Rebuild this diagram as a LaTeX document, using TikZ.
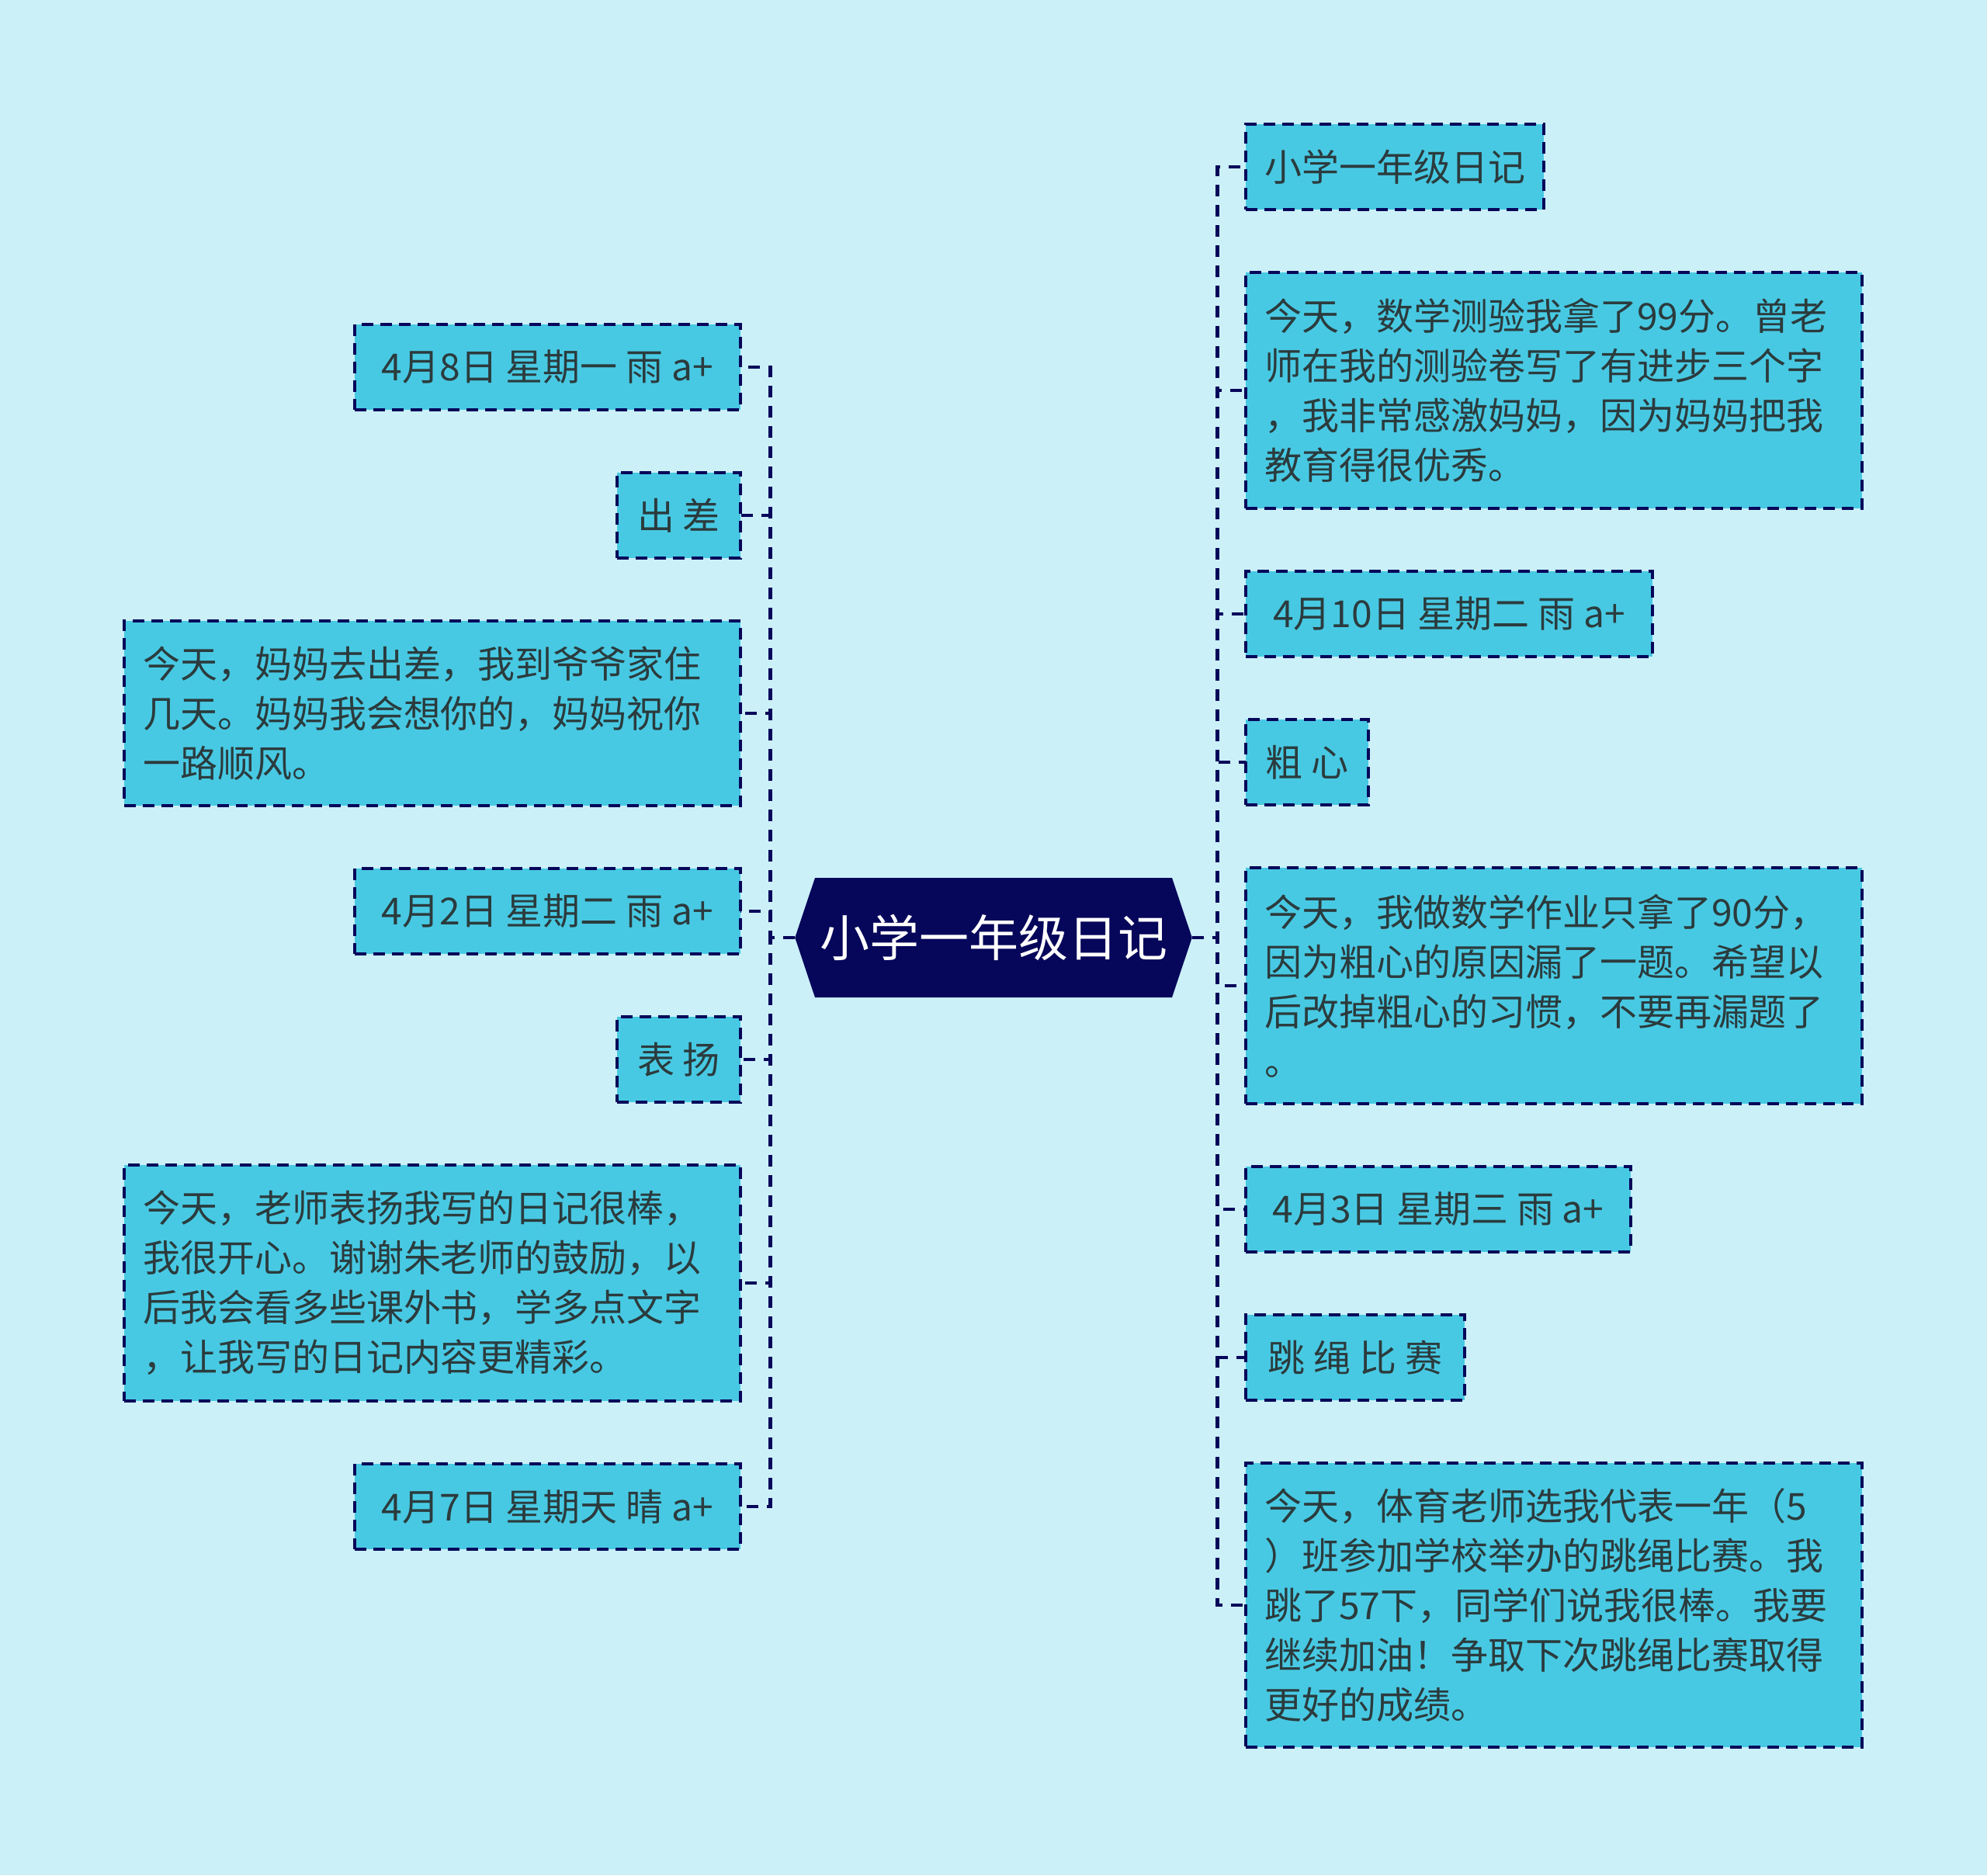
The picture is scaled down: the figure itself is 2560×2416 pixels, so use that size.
\documentclass[tikz,border=0pt]{standalone}
\usepackage{fontspec}
\usepackage{tikz}
\usetikzlibrary{positioning,shapes.symbols}
\newfontfamily\cjk{Noto Sans CJK SC}
\definecolor{paper}{HTML}{CBF0F8}
\definecolor{sky}{HTML}{48C9E3}
\definecolor{ink}{HTML}{06065A}
\definecolor{slate}{HTML}{2B3B3D}

\begin{document}
\begin{tikzpicture}[x=0.5pt,y=-0.5pt,every node/.style={font=\cjk\fontsize{24}{32}\selectfont,text=slate},box/.style={draw=ink,fill=sky,line width=1.8pt,dash pattern=on 7.5pt off 4.5pt,inner xsep=12pt,inner ysep=0pt,outer sep=0pt},datebox/.style={box,minimum height=55pt,minimum width=#1},notebox/.style={box,text width=373pt,align=left,minimum height=#1},link/.style={draw=ink,line width=2.4pt,dash pattern=on 7.5pt off 5.5pt}]
\fill[paper] (0,0) rectangle (2560,2416);
\useasboundingbox (0,0) rectangle (2560,2416);
\node[shape=signal,signal to=west and east,signal pointer angle=143,fill=ink,text=white,font=\cjk\fontsize{32}{38}\selectfont,minimum height=77pt,inner xsep=3pt,inner ysep=0pt,outer sep=0pt] (root) at (1280,1208) {小学一年级日记};
\node[datebox=248.5pt,anchor=north east] (l1) at (954,418) {4月8日 星期一 雨 a+};
\node[datebox=79.5pt,below=40.5pt of l1.south east,anchor=north east] (l2) {出 差};
\node[notebox=119pt,below=40.5pt of l2.south east,anchor=north east] (l3) {今天，妈妈去出差，我到爷爷家住\\几天。妈妈我会想你的，妈妈祝你\\一路顺风。};
\node[datebox=248.5pt,below=40.5pt of l3.south east,anchor=north east] (l4) {4月2日 星期二 雨 a+};
\node[datebox=79.5pt,below=40.5pt of l4.south east,anchor=north east] (l5) {表 扬};
\node[notebox=152pt,below=40.5pt of l5.south east,anchor=north east] (l6) {今天，老师表扬我写的日记很棒，\\我很开心。谢谢朱老师的鼓励，以\\后我会看多些课外书，学多点文字\\，让我写的日记内容更精彩。};
\node[datebox=248.5pt,below=40.5pt of l6.south east,anchor=north east] (l7) {4月7日 星期天 晴 a+};
\node[datebox=192pt,anchor=north west] (r1) at (1605,160) {小学一年级日记};
\node[notebox=152pt,below=40.5pt of r1.south west,anchor=north west] (r2) {今天，数学测验我拿了99分。曾老\\师在我的测验卷写了有进步三个字\\，我非常感激妈妈，因为妈妈把我\\教育得很优秀。};
\node[datebox=262pt,below=40.5pt of r2.south west,anchor=north west] (r3) {4月10日 星期二 雨 a+};
\node[datebox=79pt,below=40.5pt of r3.south west,anchor=north west] (r4) {粗 心};
\node[notebox=152pt,below=40.5pt of r4.south west,anchor=north west] (r5) {今天，我做数学作业只拿了90分，\\因为粗心的原因漏了一题。希望以\\后改掉粗心的习惯，不要再漏题了\\。};
\node[datebox=248pt,below=40.5pt of r5.south west,anchor=north west] (r6) {4月3日 星期三 雨 a+};
\node[datebox=141pt,below=40.5pt of r6.south west,anchor=north west] (r7) {跳 绳 比 赛};
\node[notebox=183pt,below=40.5pt of r7.south west,anchor=north west] (r8) {今天，体育老师选我代表一年（5\\）班参加学校举办的跳绳比赛。我\\跳了57下，同学们说我很棒。我要\\继续加油！争取下次跳绳比赛取得\\更好的成绩。};
\foreach \n in {l1,l2,l3,l4,l5,l6,l7}
  \draw[link] (root.west) -- ++(-32,0) |- (\n.east);
\foreach \n in {r1,r2,r3,r4,r5,r6,r7,r8}
  \draw[link] (root.east) -- ++(33,0) |- (\n.west);
\end{tikzpicture}
\end{document}
